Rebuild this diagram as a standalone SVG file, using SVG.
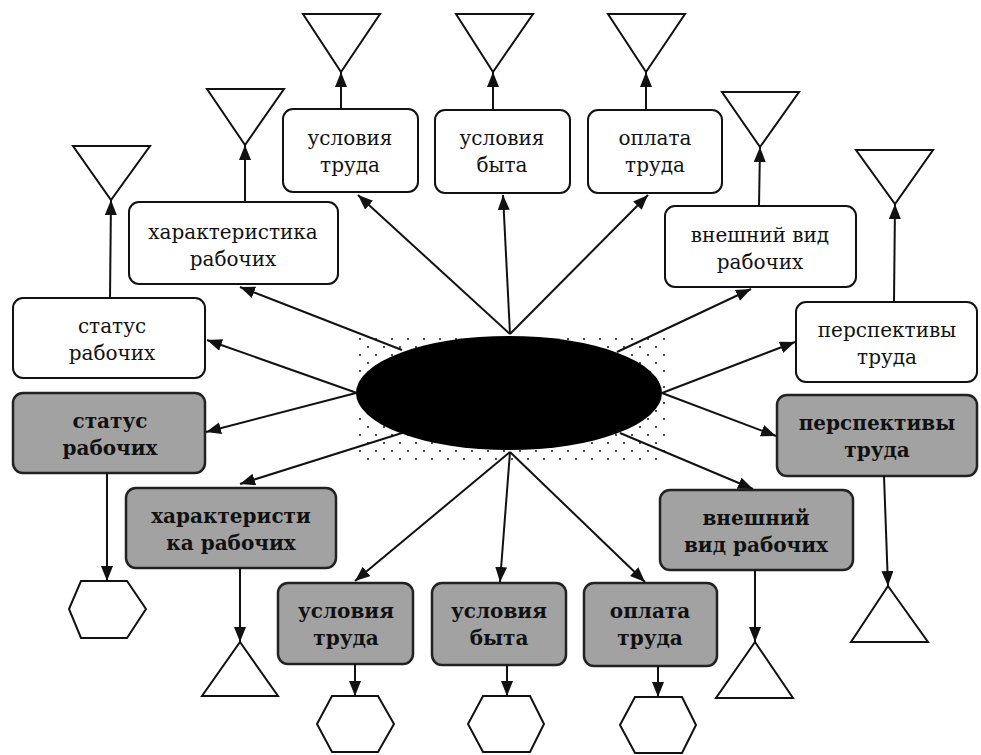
<svg xmlns="http://www.w3.org/2000/svg" width="981" height="755" viewBox="0 0 981 755">
<style>
.box{fill:#fff;stroke:#111;stroke-width:2}
.gbox{fill:#a2a2a2;stroke:#222;stroke-width:2.5}
.shape{fill:#fff;stroke:#111;stroke-width:2}
text{font-family:'DejaVu Serif','Liberation Serif',serif;font-size:20px;fill:#111;text-anchor:middle}
.tb{font-weight:bold}
.c line{stroke:#111;stroke-width:2;marker-end:url(#ah)}
</style>
<defs>
<marker id="ah" markerUnits="userSpaceOnUse" markerWidth="16" markerHeight="14" refX="15" refY="6" orient="auto">
<path d="M0,0 L15,6 L0,12 Z" fill="#111"/>
</marker>
<pattern id="dots" width="16" height="16" patternUnits="userSpaceOnUse" x="357" y="336">
<circle cx="3" cy="3" r="1.1" fill="#222"/>
<circle cx="11" cy="11" r="1.1" fill="#222"/>
</pattern>
</defs>
<rect width="981" height="755" fill="#fff"/>

<g id="center">
<rect x="357" y="336" width="310" height="124" fill="url(#dots)"/>
<ellipse cx="509" cy="393" rx="153" ry="57" fill="#000"/>
</g>

<g id="n-top-uslovia-truda">
<rect class="box" x="283" y="109" width="135" height="83" rx="10"/>
<text x="350" y="145">условия</text>
<text x="350" y="172">труда</text>
</g>
<g id="n-top-uslovia-byta">
<rect class="box" x="435" y="110" width="135" height="83" rx="10"/>
<text x="502" y="145">условия</text>
<text x="502" y="172">быта</text>
</g>
<g id="n-top-oplata">
<rect class="box" x="588" y="110" width="134" height="83" rx="10"/>
<text x="655" y="145">оплата</text>
<text x="655" y="172">труда</text>
</g>
<g id="n-top-char">
<rect class="box" x="129" y="202" width="209" height="82" rx="10"/>
<text x="233" y="239">характеристика</text>
<text x="233" y="266">рабочих</text>
</g>
<g id="n-top-status">
<rect class="box" x="13" y="298" width="192" height="80" rx="10"/>
<text x="112" y="333">статус</text>
<text x="112" y="360">рабочих</text>
</g>
<g id="n-top-vid">
<rect class="box" x="665" y="206" width="191" height="81" rx="10"/>
<text x="760" y="242">внешний вид</text>
<text x="760" y="269">рабочих</text>
</g>
<g id="n-top-persp">
<rect class="box" x="796" y="302" width="181" height="80" rx="10"/>
<text x="887" y="337">перспективы</text>
<text x="887" y="364">труда</text>
</g>

<g id="n-g-status">
<rect class="gbox" x="13" y="393" width="192" height="80" rx="10"/>
<text class="tb" x="110" y="428">статус</text>
<text class="tb" x="110" y="455">рабочих</text>
</g>
<g id="n-g-char">
<rect class="gbox" x="126" y="488" width="210" height="80" rx="10"/>
<text class="tb" x="231" y="523">характеристи</text>
<text class="tb" x="231" y="550">ка рабочих</text>
</g>
<g id="n-g-uslovia-truda">
<rect class="gbox" x="278" y="583" width="135" height="81" rx="10"/>
<text class="tb" x="346" y="618">условия</text>
<text class="tb" x="346" y="645">труда</text>
</g>
<g id="n-g-uslovia-byta">
<rect class="gbox" x="432" y="583" width="134" height="82" rx="10"/>
<text class="tb" x="499" y="618">условия</text>
<text class="tb" x="499" y="645">быта</text>
</g>
<g id="n-g-oplata">
<rect class="gbox" x="584" y="583" width="133" height="83" rx="10"/>
<text class="tb" x="650" y="618">оплата</text>
<text class="tb" x="650" y="645">труда</text>
</g>
<g id="n-g-vid">
<rect class="gbox" x="660" y="490" width="193" height="80" rx="10"/>
<text class="tb" x="756" y="525">внешний</text>
<text class="tb" x="756" y="552">вид рабочих</text>
</g>
<g id="n-g-persp">
<rect class="gbox" x="777" y="395" width="200" height="81" rx="10"/>
<text class="tb" x="877" y="430">перспективы</text>
<text class="tb" x="877" y="457">труда</text>
</g>

<g id="n-tri-top">
<polygon class="shape" points="303,14 380,14 341,72"/>
<polygon class="shape" points="456,14 533,14 493,72"/>
<polygon class="shape" points="608,14 685,14 646,72"/>
<polygon class="shape" points="207,89 284,89 245,145"/>
<polygon class="shape" points="73,146 150,146 111,200"/>
<polygon class="shape" points="722,92 799,92 760,147"/>
<polygon class="shape" points="856,150 933,150 895,204"/>
</g>
<g id="n-bottom-shapes">
<polygon class="shape" points="81,581 127,581 146,609 127,638 81,638 69,609"/>
<polygon class="shape" points="240,642 278,696 202,696"/>
<polygon class="shape" points="332,696 378,696 394,724 378,752 332,752 317,724"/>
<polygon class="shape" points="483,696 530,696 544,724 530,752 483,752 468,724"/>
<polygon class="shape" points="635,697 682,697 696,725 682,753 635,753 620,725"/>
<polygon class="shape" points="755,642 793,698 716,698"/>
<polygon class="shape" points="888,586 928,642 851,642"/>
</g>

<g id="connectors" class="c">
<line x1="510" y1="334" x2="358" y2="195"/>
<line x1="510" y1="334" x2="503" y2="195"/>
<line x1="510" y1="334" x2="648" y2="195"/>
<line x1="402" y1="350" x2="240" y2="287"/>
<line x1="357" y1="393" x2="207" y2="340"/>
<line x1="356" y1="393" x2="206" y2="432"/>
<line x1="402" y1="433" x2="240" y2="484"/>
<line x1="617" y1="352" x2="751" y2="289"/>
<line x1="662" y1="393" x2="795" y2="342"/>
<line x1="662" y1="393" x2="776" y2="436"/>
<line x1="620" y1="433" x2="753" y2="489"/>
<line x1="510" y1="452" x2="355" y2="581"/>
<line x1="510" y1="452" x2="500" y2="582"/>
<line x1="510" y1="452" x2="645" y2="582"/>
<line x1="110" y1="298" x2="111" y2="200"/>
<line x1="245" y1="202" x2="245" y2="145"/>
<line x1="341" y1="109" x2="341" y2="72"/>
<line x1="493" y1="110" x2="493" y2="72"/>
<line x1="646" y1="110" x2="646" y2="72"/>
<line x1="759" y1="206" x2="760" y2="147"/>
<line x1="894" y1="302" x2="895" y2="204"/>
<line x1="107" y1="473" x2="107" y2="581"/>
<line x1="240" y1="568" x2="240" y2="642"/>
<line x1="355" y1="664" x2="355" y2="696"/>
<line x1="507" y1="665" x2="507" y2="696"/>
<line x1="658" y1="666" x2="658" y2="697"/>
<line x1="755" y1="570" x2="755" y2="642"/>
<line x1="884" y1="476" x2="888" y2="586"/>
</g>
</svg>
